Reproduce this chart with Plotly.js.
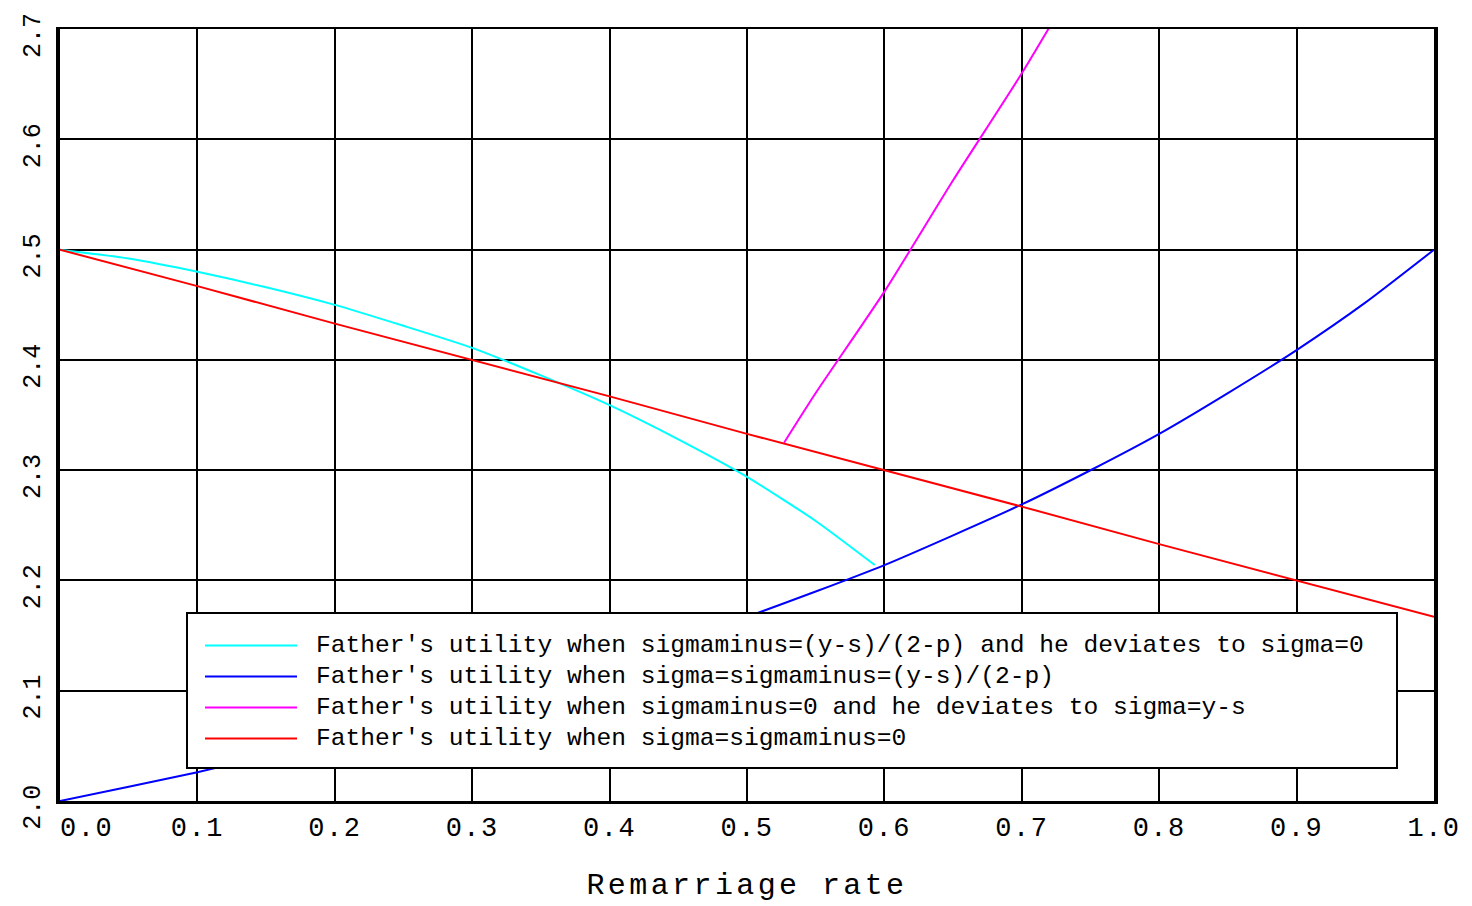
<!DOCTYPE html>
<html>
<head>
<meta charset="utf-8">
<script src="https://cdn.plot.ly/plotly-3.0.1.min.js"></script>
<style>
  html, body { margin: 0; padding: 0; background: #fff; }
  #chart { width: 1472px; height: 906px; }
  g.xtick text { letter-spacing: 1.5px; }
  text.xtitle { letter-spacing: 3.4px; }
</style>
</head>
<body>
<div id="chart"></div>
<script>
// ---- data ----
const seriesNames = [
  "Father's utility when sigmaminus=(y-s)/(2-p) and he deviates to sigma=0",
  "Father's utility when sigma=sigmaminus=(y-s)/(2-p)",
  "Father's utility when sigmaminus=0 and he deviates to sigma=y-s",
  "Father's utility when sigma=sigmaminus=0"
];
const seriesColors = ["#00FFFF", "#0000FF", "#FF00FF", "#FF0000"];

const cyanX = [0, 0.05, 0.1, 0.15, 0.2, 0.25, 0.3, 0.35, 0.4, 0.45, 0.5, 0.55, 0.593];
const cyanY = [2.5, 2.492, 2.480, 2.466, 2.450, 2.431, 2.411, 2.386, 2.359, 2.328, 2.294, 2.254, 2.214];

const blueX = [0, 0.05, 0.1, 0.15, 0.2, 0.25, 0.3, 0.35, 0.4, 0.45, 0.5, 0.55, 0.6, 0.65, 0.7, 0.75, 0.8, 0.85, 0.9, 0.95, 1.0];
const blueY = [2.0, 2.013, 2.026, 2.041, 2.056, 2.071, 2.088, 2.106, 2.125, 2.145, 2.167, 2.190, 2.214, 2.241, 2.269, 2.300, 2.333, 2.370, 2.409, 2.452, 2.5];

const magentaX = [0.527, 0.55, 0.6, 0.65, 0.7, 0.75];
const magentaY = [2.325, 2.370, 2.462, 2.563, 2.660, 2.765];

const redX = [0, 0.1, 0.2, 0.3, 0.4, 0.5, 0.6, 0.7, 0.8, 0.9, 1.0];
const redY = [2.5, 2.467, 2.433, 2.4, 2.367, 2.333, 2.3, 2.267, 2.233, 2.2, 2.167];

const xTickVals = [0, 0.1, 0.2, 0.3, 0.4, 0.5, 0.6, 0.7, 0.8, 0.9, 1.0];
const xTickText = ["\u00a0\u00a0\u00a00.0", "0.1", "0.2", "0.3", "0.4", "0.5", "0.6", "0.7", "0.8", "0.9", "1.0"];
const yTickVals = [2.0, 2.1, 2.2, 2.3, 2.4, 2.5, 2.6, 2.7];
const yTickText = ["2.0", "2.1", "2.2", "2.3", "2.4", "2.5", "2.6", "2.7"];
const xTitle = "Remarriage rate";

// ---- layout geometry ----
const W = 1472, H = 906;
const M = { l: 60, r: 38, t: 29, b: 105 };
const PW = W - M.l - M.r, PH = H - M.t - M.b;
const px2x = p => (p - M.l) / PW;
const py2y = p => (H - M.b - p) / PH;

const FONT = "Liberation Mono, DejaVu Sans Mono, monospace";

const xs = [cyanX, blueX, magentaX, redX];
const ys = [cyanY, blueY, magentaY, redY];
const shapesOfLine = ['spline', 'spline', 'spline', 'linear'];
const traces = xs.map((x, i) => ({
  type: 'scatter', mode: 'lines', x: x, y: ys[i], name: seriesNames[i],
  line: { color: seriesColors[i], width: 2, shape: shapesOfLine[i], smoothing: 0.6 },
  showlegend: false, hoverinfo: 'skip'
}));

// manual legend box
const legBox = { x0: 187, x1: 1397, y0: 613, y1: 768 };
const rowY = [645.5, 676.5, 707.5, 738.5];
const shapes = [{
  type: 'rect', xref: 'paper', yref: 'paper', layer: 'above',
  x0: px2x(legBox.x0), x1: px2x(legBox.x1), y0: py2y(legBox.y1), y1: py2y(legBox.y0),
  fillcolor: '#ffffff', line: { color: '#000', width: 2 }
}];
const annotations = [];
seriesNames.forEach((n, i) => {
  shapes.push({
    type: 'line', xref: 'paper', yref: 'paper', layer: 'above',
    x0: px2x(205), x1: px2x(297), y0: py2y(rowY[i]), y1: py2y(rowY[i]),
    line: { color: seriesColors[i], width: 2 }
  });
  annotations.push({
    xref: 'paper', yref: 'paper', x: px2x(314), y: py2y(rowY[i]),
    xanchor: 'left', yanchor: 'middle', showarrow: false, text: n,
    font: { family: FONT, size: 24.6, color: '#000' }
  });
});

const layout = {
  width: W, height: H,
  margin: M,
  paper_bgcolor: '#fff', plot_bgcolor: '#fff',
  showlegend: false,
  xaxis: {
    range: [0, 1], tickmode: 'array', tickvals: xTickVals, ticktext: xTickText,
    showgrid: true, gridcolor: '#000', gridwidth: 2, zeroline: false,
    showline: true, linecolor: '#000', linewidth: 2.5, mirror: true,
    ticks: '', ticklabeloverflow: 'allow',
    tickfont: { family: FONT, size: 27, color: '#000' },
    title: { text: xTitle, font: { family: FONT, size: 30, color: '#000' }, standoff: 30 }
  },
  yaxis: {
    range: [2.0, 2.7002], tickmode: 'array', tickvals: yTickVals, ticktext: yTickText,
    showgrid: true, gridcolor: '#000', gridwidth: 2, zeroline: false,
    showline: true, linecolor: '#000', linewidth: 4, mirror: true,
    ticks: '', tickangle: -90, ticklabelstandoff: 6, ticklabelshift: 10,
    ticklabeloverflow: 'allow',
    tickfont: { family: FONT, size: 25, color: '#000' }
  },
  shapes: shapes,
  annotations: annotations
};

Plotly.newPlot('chart', traces, layout, { staticPlot: true, displayModeBar: false });
</script>
</body>
</html>
